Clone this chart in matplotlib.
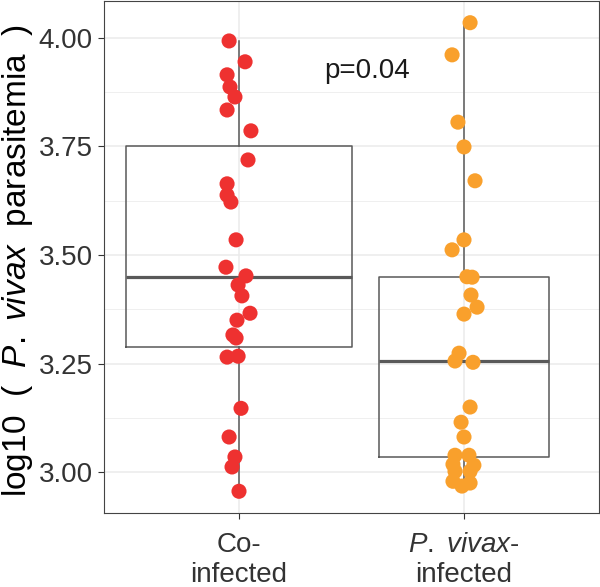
import matplotlib
matplotlib.use('Agg')
import matplotlib.pyplot as plt
from matplotlib.ticker import MultipleLocator, FixedLocator

plt.rcParams['font.family'] = ['Liberation Sans', 'DejaVu Sans']
plt.rcParams['mathtext.fontset'] = 'custom'
plt.rcParams['mathtext.rm'] = 'Liberation Sans'
plt.rcParams['mathtext.it'] = 'Liberation Sans:italic'

# ---------------- data ----------------
categories = ['Co-\ninfected', r'$\it{P.\ vivax}$-' + '\ninfected']
y_ticks = [3.00, 3.25, 3.50, 3.75, 4.00]
y_ticklabels = ['3.00', '3.25', '3.50', '3.75', '4.00']

co_values = [3.993, 3.945, 3.915, 3.887, 3.864, 3.834, 3.786, 3.719, 3.664,
             3.638, 3.622, 3.535, 3.472, 3.452, 3.431, 3.406, 3.366, 3.350,
             3.316, 3.309, 3.265, 3.267, 3.147, 3.081, 3.035, 3.012, 2.956]
co_jitter = [-0.044, 0.027, -0.053, -0.040, -0.018, -0.053, 0.053, 0.040, -0.053,
             -0.053, -0.036, -0.013, -0.058, 0.031, -0.004, 0.013, 0.049, -0.009,
             -0.027, -0.013, -0.053, -0.004, 0.009, -0.044, -0.018, -0.031, 0.0]

pv_values = [4.035, 3.961, 3.806, 3.749, 3.671, 3.535, 3.512, 3.450, 3.449,
             3.408, 3.380, 3.364, 3.274, 3.256, 3.253, 3.150, 3.115, 3.081,
             3.039, 3.039, 3.018, 3.016, 3.002, 3.002, 2.979, 2.975, 2.968]
pv_jitter = [0.027, -0.053, -0.027, 0.0, 0.049, 0.0, -0.053, 0.013, 0.036,
             0.031, 0.058, 0.0, -0.022, -0.040, 0.040, 0.027, -0.013, 0.0,
             -0.040, 0.022, -0.049, 0.044, -0.040, 0.027, -0.049, 0.027, -0.009]

box_whislo = [2.956, 2.968]
box_q1 = [3.288, 3.036]
box_med = [3.449, 3.257]
box_q3 = [3.751, 3.450]
box_whishi = [3.993, 4.035]

p_text = 'p=0.04'

# ---------------- figure ----------------
fig = plt.figure(figsize=(6.0, 5.87), dpi=100)
ax = fig.add_axes([104 / 600, 1 - 513 / 587, 495 / 600, 512 / 587])

ax.set_xlim(0.4, 2.6)
ax.set_ylim(2.906, 4.085)

# grid
ax.yaxis.set_major_locator(FixedLocator(y_ticks))
ax.yaxis.set_minor_locator(MultipleLocator(0.125))
ax.set_axisbelow(True)
ax.grid(True, which='major', color='#EBEBEB', lw=1.1)
ax.grid(True, which='minor', axis='y', color='#EBEBEB', lw=0.55)
ax.tick_params(axis='y', which='minor', length=0)

# boxes
stats = []
for i in range(2):
    stats.append(dict(whislo=box_whislo[i], q1=box_q1[i], med=box_med[i],
                      q3=box_q3[i], whishi=box_whishi[i], fliers=[]))
box_col = '#595959'
ax.bxp(stats, positions=[1.0, 2.0], widths=[1.005, 0.756], showcaps=False,
       showfliers=False, patch_artist=False,
       boxprops=dict(color=box_col, lw=1.1),
       whiskerprops=dict(color=box_col, lw=1.1),
       medianprops=dict(color=box_col, lw=2.3, solid_capstyle='butt'),
       zorder=2)

# points
ax.scatter([1 + j for j in co_jitter], co_values, s=118, color='#EE3130',
           edgecolors='none', zorder=3)
ax.scatter([2 + j for j in pv_jitter], pv_values, s=118, color='#F9A02C',
           edgecolors='none', zorder=3)

ax.text(1.569, 3.924, p_text, ha='center', va='center', fontsize=20,
        color='#1a1a1a')

# axes styling
ax.set_xticks([1, 2])
ax.set_xticklabels(categories)
ax.set_yticklabels(y_ticklabels)
ax.tick_params(axis='both', which='major', length=4, color='#333333',
               labelsize=20, labelcolor='#333333', width=0.8)
ax.tick_params(axis='x', pad=10)
ax.tick_params(axis='y', pad=4)
for sp in ax.spines.values():
    sp.set_color('#444444')
    sp.set_linewidth(0.8)

ax.set_ylabel(r'log10  (  $\it{P.\ vivax}$  parasitemia  )', fontsize=24,
              color='black')
ax.yaxis.set_label_coords(-0.14, 0.494)

fig.savefig('out.png', dpi=100)
